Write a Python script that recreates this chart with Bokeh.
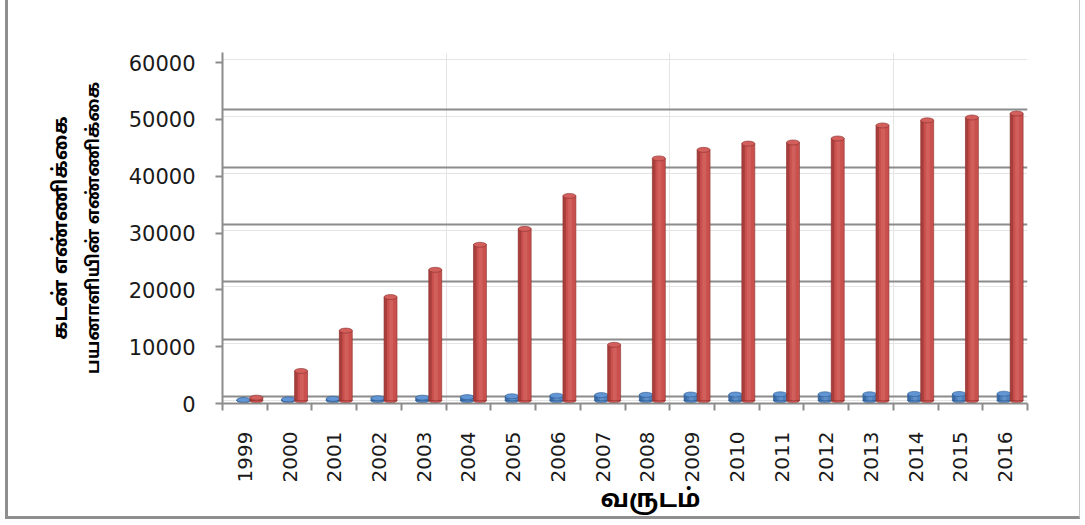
from math import pi
from bokeh.plotting import figure
from bokeh.models import Range1d, LinearAxis, Grid, FixedTicker, Title
from bokeh.embed import file_html
from bokeh.resources import INLINE

# ---------------- data ----------------
years = ["1999", "2000", "2001", "2002", "2003", "2004", "2005", "2006", "2007",
         "2008", "2009", "2010", "2011", "2012", "2013", "2014", "2015", "2016"]
series_blue = [100, 200, 300, 400, 500, 600, 750, 850, 950,
               1000, 1050, 1050, 1100, 1100, 1100, 1150, 1150, 1200]
series_red = [500, 5200, 12300, 18200, 23000, 27400, 30200, 36000, 9800,
              42600, 44100, 45200, 45400, 46100, 48400, 49300, 49800, 50500]
y_ticks = [0, 10000, 20000, 30000, 40000, 50000, 60000]

y_title_1 = "கடன் எண்ணிக்கை"
y_title_2 = "பயனாளியின் எண்ணிக்கை"
x_title = "வருடம்"

# ---------------- layout ----------------
W, H = 1075, 519
FONT = "'Noto Sans Tamil', 'Lohit Tamil', 'Noto Sans', sans-serif"
NUM_FONT = "DejaVu Sans"
GRAY = "#8c8c8c"

n = len(years)
ymax = y_ticks[-1]
per_px_front = ymax / 341.0
per_px_back = ymax / 344.0
per_px_mid = ymax / 341.0

p = figure(width=W, height=H, output_backend="svg", toolbar_location=None,
           x_axis_location=None, y_axis_location=None,
           x_range=Range1d(0, n),
           y_range=Range1d(-3 * per_px_mid, ymax + 7 * per_px_mid),
           min_border_left=214, min_border_right=56,
           min_border_top=52, min_border_bottom=116,
           background_fill_color="white", border_fill_color="white",
           outline_line_color=None)
p.extra_y_ranges = {
    "front": Range1d(0, ymax + 10 * per_px_front),
    "back": Range1d(-7 * per_px_back, ymax),
}
p.styles = {"margin-left": "5px",
            "border-left": "3px solid #8f8f8f",
            "border-bottom": "3px solid #8f8f8f",
            "border-right": "1px solid #c6c6c6"}

yticker = FixedTicker(ticks=y_ticks)

# back-wall gridlines
p.add_layout(Grid(dimension=1, ticker=yticker, y_range_name="back",
                  grid_line_color=GRAY, grid_line_width=2))

# y axis (front)
yaxis = LinearAxis(y_range_name="front", ticker=yticker,
                   axis_line_color=GRAY, axis_line_width=2,
                   major_tick_line_color=GRAY, major_tick_line_width=2,
                   major_tick_out=7, major_tick_in=0,
                   minor_tick_line_color=None,
                   major_label_text_font=NUM_FONT,
                   major_label_text_font_size="21px",
                   major_label_text_color="#1a1a1a",
                   major_label_standoff=20,
                   axis_label=y_title_2,
                   axis_label_text_font=FONT,
                   axis_label_text_font_style="bold",
                   axis_label_text_font_size="18px",
                   axis_label_text_color="black",
                   axis_label_standoff=20)
p.add_layout(yaxis, "left")
p.add_layout(Title(text=y_title_1, align="center", text_font=FONT,
                   text_font_style="bold", text_font_size="20px",
                   text_color="black", standoff=12), "left")

# x axis: labels at category centres, ticks at category boundaries
centers = [i + 0.5 for i in range(n)]
bounds = [float(i) for i in range(n + 1)]
xaxis = LinearAxis(ticker=FixedTicker(ticks=centers, minor_ticks=bounds),
                   major_label_overrides={c: y for c, y in zip(centers, years)},
                   axis_line_color=GRAY, axis_line_width=2,
                   major_tick_line_color=None,
                   minor_tick_line_color=GRAY, minor_tick_line_width=2,
                   minor_tick_out=7, minor_tick_in=0,
                   major_label_orientation=pi / 2,
                   major_label_text_font=NUM_FONT,
                   major_label_text_font_size="20px",
                   major_label_text_color="#1a1a1a",
                   major_label_standoff=21)
p.add_layout(xaxis, "below")
p.add_layout(Title(text=x_title, align="left", offset=378, text_font=FONT,
                   text_font_style="bold", text_font_size="25px",
                   text_color="black", standoff=-6, text_line_height=1.2), "below")


def cylinders(values, offset, width, base, dark, light, cap):
    xs = [c + offset for c in centers]
    zeros = [0] * len(values)
    p.ellipse(x=xs, y=zeros, width=width, height=5, height_units="screen",
              fill_color=base, line_color=dark, line_width=0.6)
    p.vbar(x=xs, bottom=zeros, top=values, width=width,
           fill_color=base, line_color=dark, line_width=0.6)
    p.vbar(x=[x - width * 0.38 for x in xs], bottom=zeros, top=values,
           width=width * 0.22, fill_color=dark, fill_alpha=0.55, line_color=None)
    p.vbar(x=[x + width * 0.05 for x in xs], bottom=zeros, top=values,
           width=width * 0.3, fill_color=light, fill_alpha=0.45, line_color=None)
    p.ellipse(x=xs, y=values, width=width, height=5, height_units="screen",
              fill_color=cap, line_color=dark, line_width=0.6)


cylinders(series_blue, -0.03, 0.30, "#4f81bd", "#2c5a91", "#79a3d8", "#6295d3")
cylinders(series_red, 0.257, 0.29, "#c9504d", "#8a302d", "#dc716e", "#d35f5c")

open("out.html", "w").write(file_html(p, INLINE))
